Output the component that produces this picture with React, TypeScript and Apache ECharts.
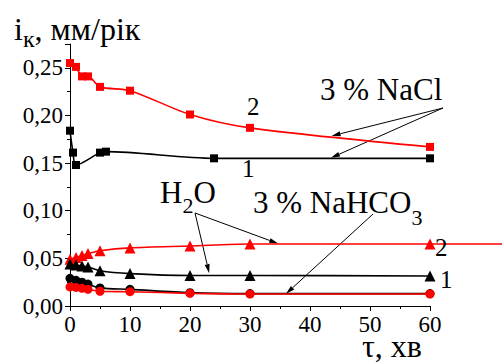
import React, { useEffect, useRef } from 'react';
import * as echarts from 'echarts';

// time, min
const naclTime2 = [0, 1, 2, 3, 5, 10, 20, 30, 60];
const naclRate2 = [0.255, 0.251, 0.241, 0.241, 0.230, 0.226, 0.201, 0.187, 0.167];
const naclTime1 = [0, 0.5, 1, 5, 6, 24, 60];
const naclRate1 = [0.184, 0.161, 0.148, 0.161, 0.162, 0.155, 0.155];
const time = [0, 1, 2, 3, 5, 10, 20, 30, 60];
const h2oRate2 = [0.049, 0.051, 0.053, 0.055, 0.058, 0.061, 0.063, 0.065, 0.065];
const h2oRate1 = [0.044, 0.043, 0.042, 0.041, 0.037, 0.034, 0.032, 0.032, 0.0315];
const bicarbRate1 = [0.029, 0.027, 0.025, 0.023, 0.019, 0.0175, 0.014, 0.013, 0.013];
const bicarbRate2 = [0.020, 0.0195, 0.0185, 0.0175, 0.0155, 0.015, 0.0133, 0.0126, 0.0126];

const FONT = 'serif';

const pair = (xs: number[], ys: number[]) => xs.map((x, i) => [x, ys[i]]);

export default function App() {
  const ref = useRef<HTMLDivElement>(null);
  useEffect(() => {
    document.body.style.margin = '0';
    const chart = echarts.init(ref.current!, null, { renderer: 'svg' });
    const mk = (data: number[][], color: string, symbol: string, size: number, z: number) => ({
      type: 'line',
      data,
      smooth: 0.3,
      symbol,
      symbolSize: size,
      showSymbol: true,
      lineStyle: { color, width: 1.6 },
      itemStyle: { color },
      z,
    });
    const axisCommon = {
      axisLine: { show: true, onZero: false, lineStyle: { color: '#000', width: 1 } },
      axisTick: { show: true, inside: false, length: 5, lineStyle: { color: '#000', width: 1 } },
      minorTick: { show: true, splitNumber: 2, length: 3, lineStyle: { color: '#000', width: 1 } },
      splitLine: { show: false },
    };
    const p = (x: number, y: number) => chart.convertToPixel({ gridIndex: 0 }, [x, y]) as number[];
    const measure = (t: string, s: number) =>
      new echarts.graphic.Text({ style: { text: t, fontSize: s, fontFamily: FONT } }).getBoundingRect().width;
    const run = (x0: number, baseline: number, parts: { t: string; s: number; dy?: number }[]) => {
      let x = x0;
      const out: any[] = [];
      for (const q of parts) {
        out.push({
          type: 'text',
          style: {
            text: q.t,
            x,
            y: baseline + (q.dy || 0) - 0.34 * q.s,
            fontSize: q.s,
            fontFamily: FONT,
            fill: '#000',
            verticalAlign: 'middle',
          },
        });
        x += measure(q.t, q.s);
      }
      return out;
    };
    const arrow = (a: number[], b: number[]) => {
      const dx = b[0] - a[0];
      const dy = b[1] - a[1];
      const L = Math.hypot(dx, dy);
      const ux = dx / L;
      const uy = dy / L;
      const len = 9;
      const hw = 2.5;
      const bx = b[0] - ux * len;
      const by = b[1] - uy * len;
      return [
        { type: 'line', shape: { x1: a[0], y1: a[1], x2: bx, y2: by }, style: { stroke: '#000', lineWidth: 1 } },
        {
          type: 'polygon',
          shape: { points: [[b[0], b[1]], [bx - uy * hw, by + ux * hw], [bx + uy * hw, by - ux * hw]] },
          style: { fill: '#000' },
        },
      ];
    };
    chart.setOption({
      animation: false,
      textStyle: { fontFamily: FONT },
      grid: { left: 70, right: 72, top: 44, bottom: 57 },
      xAxis: {
        type: 'value',
        min: 0,
        max: 60,
        interval: 10,
        ...axisCommon,
        axisLabel: { color: '#000', fontFamily: FONT, fontSize: 23, margin: 7 },
      },
      yAxis: {
        type: 'value',
        min: 0,
        max: 0.275,
        interval: 0.05,
        ...axisCommon,
        axisLabel: {
          color: '#000',
          fontFamily: FONT,
          fontSize: 23,
          margin: 7,
          formatter: (v: number) => {
            const k = v / 0.05;
            if (Math.abs(k - Math.round(k)) > 1e-6) return '';
            return v.toFixed(2).replace('.', ',');
          },
        },
      },
      series: [
        mk(pair(naclTime2, naclRate2), '#ff0000', 'rect', 8, 3),
        mk(pair(naclTime1, naclRate1), '#000000', 'rect', 8, 3),
        mk(pair(time, h2oRate2), '#ff0000', 'triangle', 11, 3),
        mk(pair(time, h2oRate1), '#000000', 'triangle', 11, 3),
        mk(pair(time, bicarbRate1), '#000000', 'circle', 9, 3),
        mk(pair(time, bicarbRate2), '#ff0000', 'circle', 9, 4),
      ],
    });

    const ext = p(60, h2oRate2[h2oRate2.length - 1]);
    const naclStart = [443, 108];
    const h2oStart = [195, 213];
    const bicStart = [373, 214];
    const elements: any[] = [
      { type: 'line', shape: { x1: ext[0], y1: ext[1], x2: 502, y2: ext[1] }, style: { stroke: '#ff0000', lineWidth: 1.6 } },
      ...run(14, 40, [
        { t: 'i', s: 32 },
        { t: 'к', s: 24, dy: 7 },
        { t: ', мм/рік', s: 32 },
      ]),
      ...run(320, 100, [{ t: '3 % NaCl', s: 31 }]),
      ...run(160, 203, [
        { t: 'H', s: 31 },
        { t: '2', s: 22, dy: 10 },
        { t: 'O', s: 31 },
      ]),
      ...run(253, 213, [
        { t: '3 % NaHCO', s: 31 },
        { t: '3', s: 22, dy: 12 },
      ]),
      ...run(362, 357, [{ t: 'τ, хв', s: 32 }]),
      ...run(247, 115, [{ t: '2', s: 25 }]),
      ...run(242, 177, [{ t: '1', s: 25 }]),
      ...run(435, 256, [{ t: '2', s: 25 }]),
      ...run(440, 288, [{ t: '1', s: 25 }]),
      ...arrow(naclStart, p(43.6, 0.1785)),
      ...arrow(naclStart, p(43.5, 0.1555)),
      ...arrow(h2oStart, p(23.2, 0.0345)),
      ...arrow(h2oStart, p(34.7, 0.0655)),
      ...arrow(bicStart, p(36, 0.0128)),
    ];
    chart.setOption({ graphic: { elements } });
    return () => chart.dispose();
  }, []);
  return <div ref={ref} style={{ width: 502, height: 363, background: '#fff' }} />;
}
